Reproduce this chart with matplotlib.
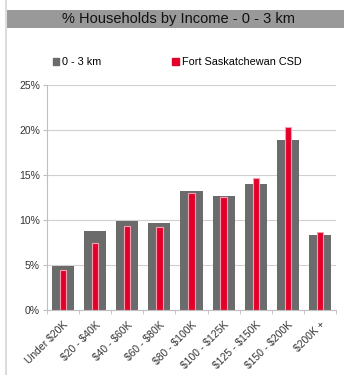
import matplotlib
matplotlib.use("Agg")
import matplotlib.pyplot as plt
import numpy as np
from matplotlib.patches import Rectangle
from matplotlib.lines import Line2D

plt.rcParams['font.family'] = ['Liberation Sans', 'DejaVu Sans']
plt.rcParams['text.parse_math'] = False

categories = ["Under $20K", "$20 - $40K", "$40 - $60K", "$60 - $80K", "$80 - $100K",
              "$100 - $125K", "$125 - $150K", "$150 - $200K", "$200K +"]
area_vals = [4.9, 8.8, 9.9, 9.7, 13.2, 12.7, 14.0, 18.9, 8.3]
csd_vals = [4.4, 7.5, 9.3, 9.2, 13.0, 12.6, 14.7, 20.3, 8.7]
series_names = ["0 - 3 km", "Fort Saskatchewan CSD"]
title = "% Households by Income - 0 - 3 km"

gray = "#6b6b6b"
red = "#e4002b"

fig = plt.figure(figsize=(3.44, 3.75), dpi=100)

# left border and title bar
fig.add_artist(Line2D([0.016, 0.016], [0, 1], color="#dcdcdc", lw=1.5, transform=fig.transFigure))
fig.add_artist(Rectangle((0.019, 1 - 28 / 375), 1.0, 18 / 375, transform=fig.transFigure,
                         facecolor="#999999", edgecolor="none"))
fig.text(0.52, 1 - 19.5 / 375, title, ha="center", va="center", fontsize=10.5, color="#111111")

ax = fig.add_axes([47 / 344, 1 - 310 / 375, 289 / 344, 225 / 375])
x = np.arange(len(categories))
ax.bar(x, area_vals, width=0.69, color=gray, zorder=2)
ax.bar(x, csd_vals, width=0.2, color=red, edgecolor="#f4a0b0", linewidth=0.8, zorder=3)

ax.set_xlim(-0.5, len(categories) - 0.5)
ax.set_ylim(0, 25)
ax.set_yticks([0, 5, 10, 15, 20, 25])
ax.set_yticklabels([f"{v}%" for v in [0, 5, 10, 15, 20, 25]])
ax.yaxis.grid(True, color="#d0d0d0", lw=0.8, zorder=0)
ax.set_axisbelow(True)

ax.set_xticks(x)
ax.set_xticklabels(categories, rotation=45, ha="right", rotation_mode="anchor")
ax.set_xticks(np.arange(-0.5, len(categories)), minor=True)
ax.tick_params(axis="x", which="major", length=0, labelsize=7.5, colors="#333333", pad=7)
ax.tick_params(axis="x", which="minor", length=3, color="#bfbfbf", direction="out")
ax.tick_params(axis="y", length=3, color="#bfbfbf", labelsize=7.5, colors="#333333", pad=2)
for lbl in ax.get_yticklabels():
    lbl.set_color("#333333")

for s in ["top", "right"]:
    ax.spines[s].set_visible(False)
ax.spines["left"].set_color("#bfbfbf")
ax.spines["bottom"].set_color("#bfbfbf")

handles = [Rectangle((0, 0), 1, 1, color=gray), Rectangle((0, 0), 1, 1, color=red)]
fig.legend(handles, series_names, loc="center left", bbox_to_anchor=(0.125, 1 - 62 / 375),
           ncol=2, frameon=False, fontsize=7.8, handlelength=0.6, handleheight=0.6,
           handletextpad=0.3, columnspacing=6.5)

fig.savefig("out.png", dpi=100, facecolor="white")
